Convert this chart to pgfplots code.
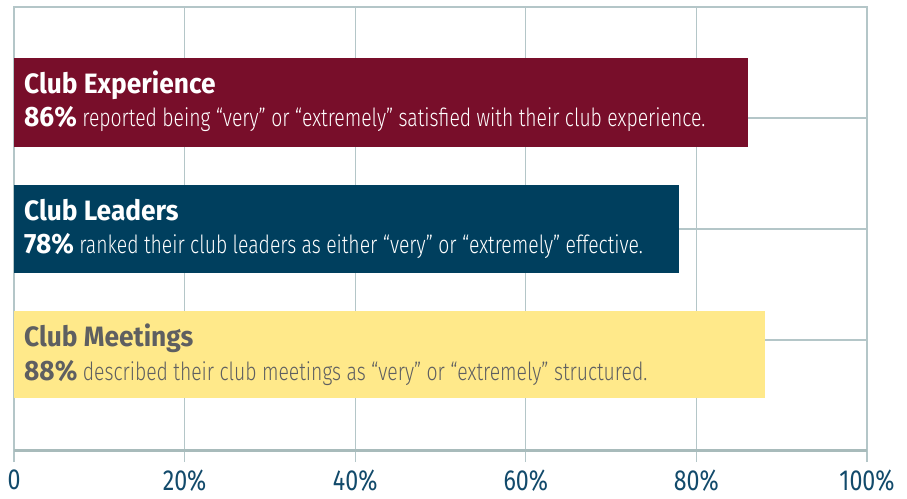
\documentclass[border=0pt]{standalone}
\usepackage{pgfplots}
\pgfplotsset{compat=1.18}
\usepackage{fontspec}
\setmainfont{Fira Sans}
\newfontfamily\titlefont{Fira Sans}[FakeStretch=0.94]
\newfontfamily\bodyfont{Fira Sans Light}[FakeStretch=0.775]
\newfontfamily\tickfont{Fira Sans}[FakeStretch=0.80]
\definecolor{gridc}{HTML}{B4C6C8}
\definecolor{axisc}{HTML}{A8BBBB}
\definecolor{maroonc}{HTML}{780E2A}
\definecolor{navyc}{HTML}{003F5E}
\definecolor{yellowc}{HTML}{FFE98A}
\definecolor{grayt}{HTML}{5E5F61}
\definecolor{tickblue}{HTML}{124A6B}
\begin{document}
\begin{tikzpicture}
\useasboundingbox (0,0) rectangle (907pt,498pt);
\begin{axis}[
  at={(14pt,47pt)}, anchor=south west,
  scale only axis, width=853pt, height=444pt,
  xmin=0, xmax=100, ymin=0, ymax=444,
  xtick={0,20,40,60,80,100},
  xticklabels={0,20\%,40\%,60\%,80\%,100\%},
  ytick={111,222,333}, yticklabels={},
  xmajorgrids, ymajorgrids,
  grid style={color=gridc, line width=1.3pt},
  axis line style={color=gridc, line width=1.3pt},
  tick align=outside, xtick pos=lower, ytick style={draw=none},
  major tick length=11pt,
  xtick style={color=gridc, line width=1.3pt},
  /pgf/number format/assume math mode=true,
  xticklabel style={font=\tickfont\fontsize{29}{29}\selectfont, text=tickblue, yshift=-4pt},
]
\addplot[xbar, bar shift=0pt, bar width=89, fill=maroonc, draw=none] coordinates {(86,348.5)};
\addplot[xbar, bar shift=0pt, bar width=88, fill=navyc, draw=none] coordinates {(78,222)};
\addplot[xbar, bar shift=0pt, bar width=87, fill=yellowc, draw=none] coordinates {(88,96.5)};
\draw[color=axisc, line width=4pt] (axis cs:0,0) -- (axis cs:100,0);
\node[anchor=base west, text=white, inner sep=0pt, font=\titlefont\bfseries\fontsize{28}{28}\selectfont] at ([xshift=10pt]axis cs:0,357) {Club Experience};
\node[anchor=base west, text=white, inner sep=0pt] at ([xshift=10pt]axis cs:0,324) {{\titlefont\bfseries\fontsize{28}{28}\selectfont 86\%}{\bodyfont\fontsize{25}{25}\selectfont\ reported being “very” or “extremely” satisfied with their club experience.}};
\node[anchor=base west, text=white, inner sep=0pt, font=\titlefont\bfseries\fontsize{28}{28}\selectfont] at ([xshift=10pt]axis cs:0,230) {Club Leaders};
\node[anchor=base west, text=white, inner sep=0pt] at ([xshift=10pt]axis cs:0,197) {{\titlefont\bfseries\fontsize{28}{28}\selectfont 78\%}{\bodyfont\fontsize{25}{25}\selectfont\ ranked their club leaders as either “very” or “extremely” effective.}};
\node[anchor=base west, text=grayt, inner sep=0pt, font=\titlefont\bfseries\fontsize{28}{28}\selectfont] at ([xshift=10pt]axis cs:0,104) {Club Meetings};
\node[anchor=base west, text=grayt, inner sep=0pt] at ([xshift=10pt]axis cs:0,71) {{\titlefont\bfseries\fontsize{28}{28}\selectfont 88\%}{\bodyfont\fontsize{25}{25}\selectfont\ described their club meetings as “very” or “extremely” structured.}};
\end{axis}
\end{tikzpicture}
\end{document}
